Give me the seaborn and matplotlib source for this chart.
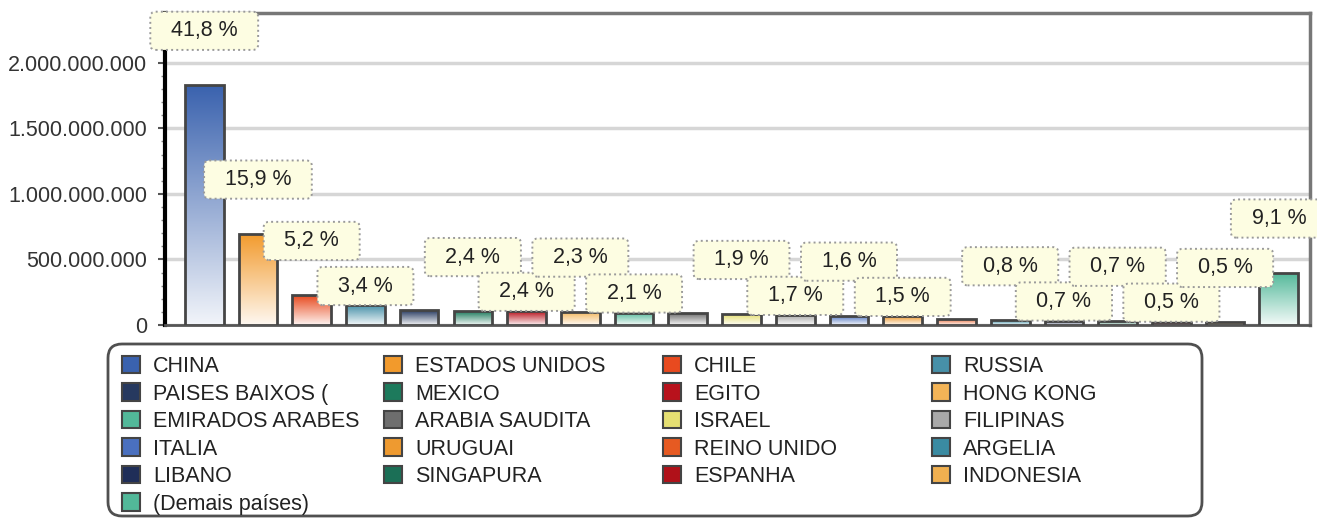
import numpy as np
import matplotlib
matplotlib.use('Agg')
import matplotlib.pyplot as plt
import seaborn as sns
from matplotlib.patches import Patch, FancyBboxPatch
from matplotlib.ticker import FuncFormatter, MultipleLocator
from matplotlib.colors import to_rgb
from matplotlib.transforms import IdentityTransform

# dados
paises = ['CHINA', 'ESTADOS UNIDOS', 'CHILE', 'RUSSIA',
          'PAISES BAIXOS (', 'MEXICO', 'EGITO', 'HONG KONG',
          'EMIRADOS ARABES', 'ARABIA SAUDITA', 'ISRAEL', 'FILIPINAS',
          'ITALIA', 'URUGUAI', 'REINO UNIDO', 'ARGELIA',
          'LIBANO', 'SINGAPURA', 'ESPANHA', 'INDONESIA',
          '(Demais países)']
valores = [1831e6, 696e6, 228e6, 149e6,
           112e6, 105e6, 105e6, 101e6,
           92e6, 88e6, 83e6, 74e6,
           70e6, 66e6, 48e6, 35e6,
           31e6, 31e6, 22e6, 22e6,
           399e6]
rotulos = ['41,8 %', '15,9 %', '5,2 %', '3,4 %',
           '', '2,4 %', '2,4 %', '2,3 %',
           '2,1 %', '', '1,9 %', '1,7 %',
           '1,6 %', '1,5 %', '', '0,8 %',
           '0,7 %', '0,7 %', '0,5 %', '0,5 %',
           '9,1 %']
cores = ['#3a62ae', '#f29a2c', '#e84a1f', '#4790a8',
         '#26395f', '#1d7a5c', '#b8121c', '#f3b457',
         '#52b899', '#6e6e6e', '#e5df72', '#a9a9a9',
         '#4a70bf', '#ee9a30', '#e65a22', '#3a8ba2',
         '#1f2e58', '#1b6f56', '#b01119', '#f0b050',
         '#52b899']

sns.set_style('white')
plt.rcParams['font.family'] = ['Liberation Sans', 'DejaVu Sans']
plt.rcParams['font.size'] = 15.5

W, H = 1317, 518
fig = plt.figure(figsize=(W / 100, H / 100), dpi=100)
ax = fig.add_axes([165 / W, 1 - 325 / H, (1310 - 165) / W, (325 - 13) / H])

sns.barplot(x=paises, y=valores, hue=paises, palette=cores, legend=False,
            width=0.72, saturation=1, edgecolor='#454545', linewidth=2,
            ax=ax, zorder=3)

# degrade vertical dentro de cada barra (cor no topo, quase branco embaixo)
for barra, cor in zip(ax.patches, cores):
    x0, w, h = barra.get_x(), barra.get_width(), barra.get_height()
    topo = np.array(to_rgb(cor))
    base = topo + (1 - topo) * 0.93
    t = np.linspace(0, 1, 80)[:, None]
    grad = (topo * (1 - t) + base * t)[:, None, :]
    img = ax.imshow(grad, extent=[x0, x0 + w, 0, h], aspect='auto',
                    origin='upper', interpolation='bilinear', zorder=2.8)
    img.set_clip_path(barra)
    barra.set_facecolor('none')

# rotulos de percentual, alternando alto / baixo
nivel = ['alto', 'alto', 'alto', 'baixo', None, 'alto', 'baixo', 'alto',
         'baixo', None, 'alto', 'baixo', 'alto', 'baixo', None, 'alto',
         'baixo', 'alto', 'baixo', 'alto', 'alto']
for i, (v, r) in enumerate(zip(valores, rotulos)):
    if not r:
        continue
    dy = 39 if nivel[i] == 'alto' else 14
    ax.annotate(f'  {r}  ', (i, v), xytext=(0, dy), textcoords='offset points',
                ha='center', va='center', color='#222222', fontsize=15.5,
                bbox=dict(boxstyle='round,pad=0.4,rounding_size=0.25',
                          fc='#fdfde2', ec='#9a9a9a', ls=':', lw=1.4),
                annotation_clip=False, zorder=6)

ax.set_xlim(-0.73, 20.58)
ax.set_ylim(0, 2.38e9)
ax.set_xticks([])
ax.set_xlabel('')
ax.set_ylabel('')
ax.yaxis.set_major_locator(MultipleLocator(5e8))
ax.yaxis.set_minor_locator(MultipleLocator(1e8))
ax.yaxis.set_major_formatter(FuncFormatter(lambda v, p: f'{v:,.0f}'.replace(',', '.')))
ax.tick_params(axis='y', which='major', left=True, length=5, width=1.5,
               color='#555555', pad=8, labelcolor='#333333', labelsize=15.5)
ax.tick_params(axis='y', which='minor', left=True, length=3, width=1,
               color='#888888')
ax.grid(axis='y', color='#d6d6d6', lw=2.5)
ax.set_axisbelow(True)

ax.spines['left'].set_color('black')
ax.spines['left'].set_linewidth(3)
ax.spines['bottom'].set_color('#555555')
ax.spines['bottom'].set_linewidth(2)
for s in ['top', 'right']:
    ax.spines[s].set_color('#777777')
    ax.spines[s].set_linewidth(2.5)

# legenda em 4 colunas fixas
colunas_x = [122, 384, 663, 932]
for c in range(4):
    idx = list(range(c, len(paises), 4))
    handles = [Patch(facecolor=cores[i], edgecolor='#444444', lw=1.5) for i in idx]
    fig.legend(handles, [paises[i] for i in idx], loc='upper left',
               bbox_to_anchor=(colunas_x[c] / W, 1 - 356 / H),
               frameon=False, borderpad=0, borderaxespad=0,
               handlelength=0.85, handleheight=0.85, handletextpad=0.6,
               labelspacing=0.3, fontsize=15.5, labelcolor='#222222')

moldura = FancyBboxPatch((108, 2), 1094, 172,
                         boxstyle='round,pad=0,rounding_size=14',
                         transform=IdentityTransform(),
                         fc='none', ec='#505050', lw=2)
fig.add_artist(moldura)

plt.savefig('out.png', dpi=100)
